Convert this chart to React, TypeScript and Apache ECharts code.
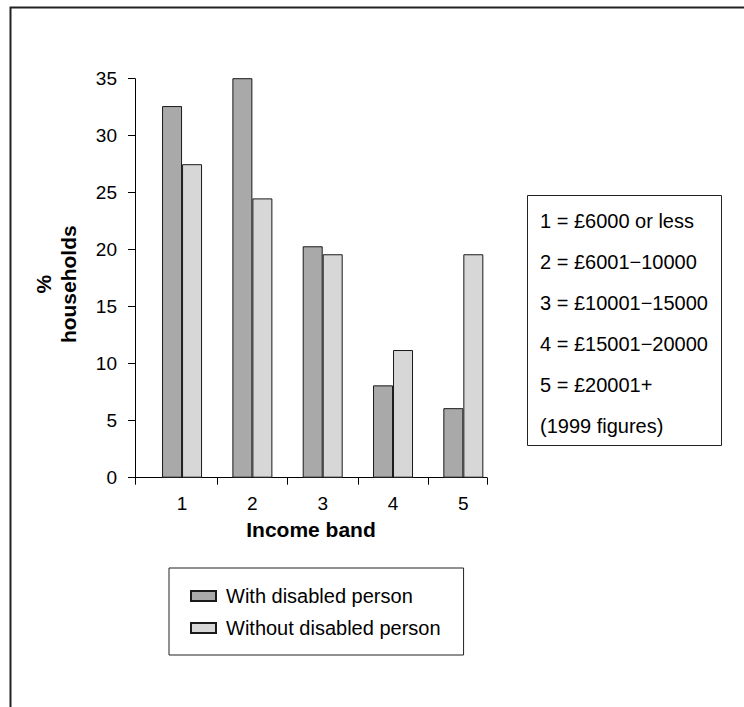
import { useEffect, useRef } from 'react';
import * as echarts from 'echarts';

// Households by income band (1999), share of each group in per cent
const incomeBands = ['1', '2', '3', '4', '5'];
const withDisabled = [32.6, 35.2, 20.3, 8.1, 6.1];
const withoutDisabled = [27.5, 24.5, 19.6, 11.2, 19.6];
const seriesNames = ['With disabled person', 'Without disabled person'];
const bandKey = [
  '1 = £6000 or less',
  '2 = £6001−10000',
  '3 = £10001−15000',
  '4 = £15001−20000',
  '5 = £20001+',
  '(1999 figures)',
];
const yMin = 0;
const yMax = 35;
const yStep = 5;

const FONT = '"Liberation Sans", Arial, Helvetica, sans-serif';
const INK = '#000';

export default function App() {
  const ref = useRef<HTMLDivElement>(null);

  useEffect(() => {
    if (!ref.current) return;
    const chart = echarts.init(ref.current, undefined, { renderer: 'svg' });

    const plotTop = 78.7;
    const plotHeight = 399;

    const hiddenY = (gridIndex: number) => ({
      type: 'value' as const,
      gridIndex,
      min: yMin,
      max: yMax,
      interval: yStep,
      show: false,
    });

    chart.setOption({
      animation: false,
      backgroundColor: '#fff',
      textStyle: { fontFamily: FONT, color: INK },
      grid: [
        // axis frame: y axis, baseline and its end ticks
        { left: 135, top: plotTop, width: 352, height: plotHeight },
        // bar groups and band labels
        { left: 146.9, top: plotTop, width: 351.6, height: plotHeight },
        // separators between the bands
        { left: 146.9, top: plotTop, width: 281.3, height: plotHeight },
      ],
      xAxis: [
        {
          type: 'category',
          gridIndex: 0,
          data: incomeBands,
          axisLine: { show: true, lineStyle: { color: INK, width: 1 } },
          axisTick: {
            show: true,
            interval: (i: number) => i === 0,
            length: 7,
            lineStyle: { color: INK, width: 1 },
          },
          axisLabel: { show: false },
          name: 'Income band',
          nameLocation: 'middle',
          nameGap: 41,
          nameTextStyle: { fontFamily: FONT, fontSize: 21, fontWeight: 'bold', color: INK },
        },
        {
          type: 'category',
          gridIndex: 1,
          data: incomeBands,
          axisLine: { show: false },
          axisTick: { show: false },
          axisLabel: { fontFamily: FONT, fontSize: 19, color: INK, margin: 16 },
        },
        {
          type: 'category',
          gridIndex: 2,
          data: incomeBands.slice(1),
          axisLine: { show: false },
          axisTick: {
            show: true,
            interval: (i: number) => i > 0,
            length: 7,
            lineStyle: { color: INK, width: 1 },
          },
          axisLabel: { show: false },
        },
      ],
      yAxis: [
        {
          type: 'value',
          gridIndex: 0,
          min: yMin,
          max: yMax,
          interval: yStep,
          axisLine: { show: true, lineStyle: { color: INK, width: 1 } },
          axisTick: { show: true, length: 7, lineStyle: { color: INK, width: 1 } },
          splitLine: { show: false },
          axisLabel: { fontFamily: FONT, fontSize: 19, color: INK, margin: 18 },
          name: '%\nhouseholds',
          nameLocation: 'middle',
          nameRotate: 90,
          nameGap: 54,
          nameTextStyle: {
            fontFamily: FONT,
            fontSize: 21,
            fontWeight: 'bold',
            color: INK,
            lineHeight: 25,
            padding: [0, 12, 0, 0],
          },
        },
        hiddenY(1),
        hiddenY(2),
      ],
      legend: {
        orient: 'vertical',
        left: 169,
        top: 568,
        data: seriesNames,
        icon: 'rect',
        itemWidth: 25,
        itemHeight: 10,
        itemGap: 12,
        padding: [18, 23, 17, 21],
        borderColor: '#222',
        borderWidth: 1,
        selectedMode: false,
        textStyle: { fontFamily: FONT, fontSize: 20, color: INK, padding: [0, 0, 0, 5] },
      },
      title: {
        text: bandKey.join('\n'),
        left: 527,
        top: 195,
        padding: [5, 14, 0, 13],
        borderColor: '#222',
        borderWidth: 1,
        textStyle: {
          fontFamily: FONT,
          fontSize: 20,
          fontWeight: 'normal',
          color: INK,
          lineHeight: 41,
        },
      },
      graphic: [
        {
          type: 'rect',
          silent: true,
          shape: { x: 10.5, y: 7.5, width: 800, height: 800 },
          style: { fill: 'none', stroke: '#222', lineWidth: 2 },
          z: 10,
        },
      ],
      series: [
        {
          name: seriesNames[0],
          type: 'bar',
          xAxisIndex: 1,
          yAxisIndex: 1,
          data: withDisabled,
          barWidth: 20,
          barGap: '0%',
          itemStyle: { color: '#a9a9a9', borderColor: '#1a1a1a', borderWidth: 1 },
        },
        {
          name: seriesNames[1],
          type: 'bar',
          xAxisIndex: 1,
          yAxisIndex: 1,
          data: withoutDisabled,
          barWidth: 20,
          barGap: '0%',
          itemStyle: { color: '#d7d7d7', borderColor: '#1a1a1a', borderWidth: 1 },
        },
      ],
    });

    return () => chart.dispose();
  }, []);

  return (
    <div
      ref={ref}
      style={{ position: 'absolute', left: 0, top: 0, width: 744, height: 707 }}
    />
  );
}
